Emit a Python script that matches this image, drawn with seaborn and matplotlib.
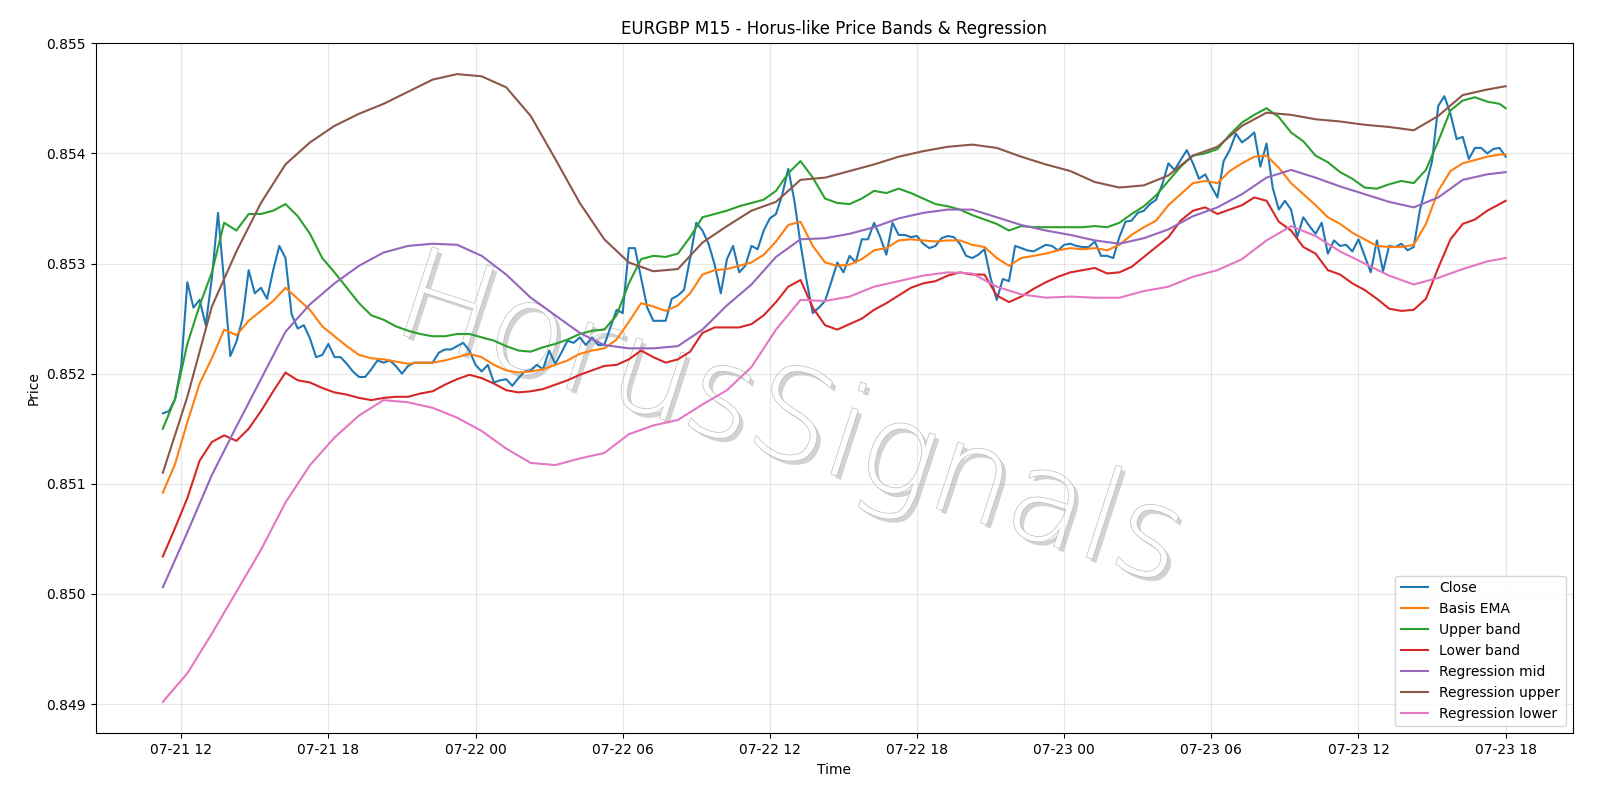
import pandas as pd
import seaborn as sns
import matplotlib.pyplot as plt
import matplotlib.dates as mdates
import matplotlib.patheffects as pe

# 15 minute bars, EURGBP
times = pd.date_range('2025-07-21 11:15', periods=220, freq='15min')
# bands read every 30 min, regression lines every hour (plus the last bar)
half_pos = list(range(0, 219, 2)) + [219]
hourly_pos = list(range(0, 217, 4)) + [219]
half_times = times[half_pos]
hourly_times = times[hourly_pos]

close = [
    0.85164, 0.85166, 0.85177, 0.85207, 0.85283, 0.85260, 0.85267, 0.85244, 0.85287, 0.85346,
    0.85283, 0.85216, 0.85229, 0.85250, 0.85294, 0.85273, 0.85278, 0.85268, 0.85294, 0.85316,
    0.85305, 0.85254, 0.85241, 0.85244, 0.85232, 0.85215, 0.85217, 0.85227, 0.85215, 0.85215,
    0.85209, 0.85202, 0.85197, 0.85197, 0.85204, 0.85212, 0.85210, 0.85212, 0.85207, 0.85200,
    0.85207, 0.85210, 0.85210, 0.85210, 0.85210, 0.85219, 0.85222, 0.85222, 0.85225, 0.85228,
    0.85221, 0.85208, 0.85202, 0.85208, 0.85192, 0.85194, 0.85195, 0.85189, 0.85196, 0.85202,
    0.85203, 0.85208, 0.85204, 0.85221, 0.85209, 0.85219, 0.85230, 0.85228, 0.85233, 0.85226,
    0.85233, 0.85226, 0.85226, 0.85242, 0.85258, 0.85255, 0.85314, 0.85314, 0.85287, 0.85260,
    0.85248, 0.85248, 0.85248, 0.85268, 0.85271, 0.85276, 0.85305, 0.85337, 0.85330, 0.85318,
    0.85299, 0.85273, 0.85304, 0.85316, 0.85292, 0.85298, 0.85316, 0.85313, 0.85330, 0.85341,
    0.85345, 0.85362, 0.85386, 0.85357, 0.85318, 0.85284, 0.85255, 0.85260, 0.85266, 0.85283,
    0.85301, 0.85292, 0.85307, 0.85301, 0.85322, 0.85322, 0.85337, 0.85324, 0.85308, 0.85337,
    0.85326, 0.85326, 0.85324, 0.85325, 0.85318, 0.85314, 0.85316, 0.85323, 0.85325, 0.85324,
    0.85318, 0.85307, 0.85305, 0.85308, 0.85313, 0.85287, 0.85267, 0.85286, 0.85284, 0.85316,
    0.85314, 0.85312, 0.85311, 0.85314, 0.85317, 0.85316, 0.85312, 0.85317, 0.85318, 0.85316,
    0.85315, 0.85315, 0.85320, 0.85307, 0.85307, 0.85305, 0.85324, 0.85338, 0.85339, 0.85346,
    0.85348, 0.85354, 0.85358, 0.85372, 0.85391, 0.85385, 0.85394, 0.85403, 0.85391, 0.85377,
    0.85381, 0.85370, 0.85360, 0.85393, 0.85403, 0.85418, 0.85410, 0.85414, 0.85419, 0.85388,
    0.85409, 0.85369, 0.85349, 0.85357, 0.85349, 0.85324, 0.85342, 0.85334, 0.85327, 0.85337,
    0.85309, 0.85321, 0.85316, 0.85317, 0.85311, 0.85322, 0.85307, 0.85292, 0.85321, 0.85293,
    0.85316, 0.85315, 0.85318, 0.85312, 0.85315, 0.85348, 0.85371, 0.85393, 0.85443, 0.85452,
    0.85436, 0.85413, 0.85415, 0.85395, 0.85405, 0.85405, 0.85400, 0.85404, 0.85405, 0.85397,
]

basis_ema = [
    0.85092, 0.85118, 0.85156, 0.85191, 0.85214, 0.85240, 0.85235, 0.85248, 0.85257, 0.85266,
    0.85278, 0.85268, 0.85258, 0.85243, 0.85234, 0.85225, 0.85217, 0.85214, 0.85213, 0.85211,
    0.85209, 0.85210, 0.85210, 0.85212, 0.85215, 0.85218, 0.85215, 0.85208, 0.85203, 0.85201,
    0.85202, 0.85204, 0.85208, 0.85212, 0.85218, 0.85221, 0.85223, 0.85231, 0.85247, 0.85264,
    0.85261, 0.85257, 0.85262, 0.85273, 0.85290, 0.85294, 0.85295, 0.85298, 0.85301, 0.85308,
    0.85320, 0.85335, 0.85338, 0.85316, 0.85301, 0.85298, 0.85299, 0.85304, 0.85312, 0.85314,
    0.85321, 0.85322, 0.85321, 0.85320, 0.85321, 0.85321, 0.85317, 0.85315, 0.85305, 0.85298,
    0.85305, 0.85307, 0.85309, 0.85312, 0.85314, 0.85313, 0.85314, 0.85312, 0.85317, 0.85326,
    0.85333, 0.85339, 0.85353, 0.85363, 0.85373, 0.85375, 0.85373, 0.85384, 0.85391, 0.85397,
    0.85398, 0.85387, 0.85373, 0.85363, 0.85353, 0.85342, 0.85336, 0.85328, 0.85322, 0.85316,
    0.85315, 0.85315, 0.85317, 0.85336, 0.85366, 0.85384, 0.85391, 0.85394, 0.85397, 0.85399,
    0.85399,
]

upper_band = [
    0.85150, 0.85177, 0.85227, 0.85262, 0.85292, 0.85337, 0.85330, 0.85345, 0.85345, 0.85348,
    0.85354, 0.85343, 0.85327, 0.85305, 0.85292, 0.85278, 0.85264, 0.85253, 0.85249, 0.85243,
    0.85239, 0.85236, 0.85234, 0.85234, 0.85236, 0.85236, 0.85233, 0.85230, 0.85225, 0.85221,
    0.85220, 0.85224, 0.85227, 0.85231, 0.85236, 0.85239, 0.85240, 0.85253, 0.85282, 0.85304,
    0.85307, 0.85306, 0.85309, 0.85324, 0.85342, 0.85345, 0.85348, 0.85352, 0.85355, 0.85358,
    0.85366, 0.85382, 0.85393, 0.85378, 0.85359, 0.85355, 0.85354, 0.85359, 0.85366, 0.85364,
    0.85368, 0.85364, 0.85359, 0.85354, 0.85352, 0.85349, 0.85344, 0.85340, 0.85336, 0.85330,
    0.85334, 0.85333, 0.85333, 0.85333, 0.85333, 0.85333, 0.85334, 0.85333, 0.85337, 0.85345,
    0.85352, 0.85362, 0.85375, 0.85388, 0.85398, 0.85400, 0.85404, 0.85417, 0.85428, 0.85435,
    0.85441, 0.85433, 0.85419, 0.85411, 0.85398, 0.85392, 0.85383, 0.85377, 0.85369, 0.85368,
    0.85372, 0.85375, 0.85373, 0.85385, 0.85411, 0.85439, 0.85448, 0.85451, 0.85447, 0.85445,
    0.85441,
]

lower_band = [
    0.85034, 0.85060, 0.85087, 0.85121, 0.85138, 0.85144, 0.85139, 0.85150, 0.85166, 0.85184,
    0.85201, 0.85194, 0.85192, 0.85187, 0.85183, 0.85181, 0.85178, 0.85176, 0.85178, 0.85179,
    0.85179, 0.85182, 0.85184, 0.85190, 0.85195, 0.85199, 0.85196, 0.85191, 0.85185, 0.85183,
    0.85184, 0.85186, 0.85190, 0.85194, 0.85199, 0.85203, 0.85207, 0.85208, 0.85213, 0.85221,
    0.85215, 0.85210, 0.85213, 0.85220, 0.85237, 0.85242, 0.85242, 0.85242, 0.85245, 0.85253,
    0.85265, 0.85279, 0.85285, 0.85260, 0.85244, 0.85240, 0.85245, 0.85250, 0.85258, 0.85264,
    0.85271, 0.85278, 0.85282, 0.85284, 0.85289, 0.85292, 0.85290, 0.85290, 0.85271, 0.85265,
    0.85270, 0.85277, 0.85283, 0.85288, 0.85292, 0.85294, 0.85296, 0.85291, 0.85292, 0.85297,
    0.85306, 0.85315, 0.85324, 0.85339, 0.85348, 0.85351, 0.85345, 0.85349, 0.85353, 0.85360,
    0.85357, 0.85338, 0.85330, 0.85315, 0.85309, 0.85294, 0.85290, 0.85282, 0.85276, 0.85268,
    0.85259, 0.85257, 0.85258, 0.85268, 0.85296, 0.85322, 0.85336, 0.85340, 0.85348, 0.85354,
    0.85357,
]

reg_mid = [
    0.85006, 0.85056, 0.85108, 0.85152, 0.85195, 0.85238, 0.85263, 0.85282, 0.85298, 0.85310,
    0.85316, 0.85318, 0.85317, 0.85307, 0.85290, 0.85269, 0.85253, 0.85237, 0.85226, 0.85223,
    0.85223, 0.85225, 0.85240, 0.85262, 0.85281, 0.85306, 0.85322, 0.85323, 0.85327, 0.85333,
    0.85341, 0.85346, 0.85349, 0.85349, 0.85342, 0.85335, 0.85330, 0.85326, 0.85321, 0.85318,
    0.85323, 0.85331, 0.85343, 0.85351, 0.85363, 0.85378, 0.85385, 0.85378, 0.85370, 0.85363,
    0.85356, 0.85351, 0.85360, 0.85376, 0.85381, 0.85383,
]

reg_upper = [
    0.85110, 0.85179, 0.85261, 0.85311, 0.85355, 0.85390, 0.85410, 0.85425, 0.85436, 0.85445,
    0.85456, 0.85467, 0.85472, 0.85470, 0.85460, 0.85434, 0.85395, 0.85355, 0.85322, 0.85301,
    0.85293, 0.85295, 0.85319, 0.85334, 0.85348, 0.85356, 0.85376, 0.85378, 0.85384, 0.85390,
    0.85397, 0.85402, 0.85406, 0.85408, 0.85405, 0.85397, 0.85390, 0.85384, 0.85374, 0.85369,
    0.85371, 0.85380, 0.85398, 0.85406, 0.85425, 0.85437, 0.85435, 0.85431, 0.85429, 0.85426,
    0.85424, 0.85421, 0.85434, 0.85453, 0.85458, 0.85461,
]

reg_lower = [
    0.84902, 0.84928, 0.84964, 0.85002, 0.85040, 0.85083, 0.85117, 0.85142, 0.85162, 0.85176,
    0.85174, 0.85169, 0.85160, 0.85148, 0.85132, 0.85119, 0.85117, 0.85123, 0.85128, 0.85145,
    0.85153, 0.85158, 0.85172, 0.85185, 0.85206, 0.85240, 0.85267, 0.85266, 0.85270, 0.85279,
    0.85284, 0.85289, 0.85292, 0.85291, 0.85279, 0.85272, 0.85269, 0.85270, 0.85269, 0.85269,
    0.85275, 0.85279, 0.85288, 0.85294, 0.85304, 0.85321, 0.85334, 0.85325, 0.85311, 0.85300,
    0.85289, 0.85281, 0.85287, 0.85295, 0.85302, 0.85305,
]

colores = sns.color_palette('tab10')

fig, ax = plt.subplots(figsize=(16, 8), dpi=100)

sns.lineplot(x=times, y=close, label='Close', color=colores[0], ax=ax)
sns.lineplot(x=half_times, y=basis_ema, label='Basis EMA', color=colores[1], ax=ax)
sns.lineplot(x=half_times, y=upper_band, label='Upper band', color=colores[2], ax=ax)
sns.lineplot(x=half_times, y=lower_band, label='Lower band', color=colores[3], ax=ax)
sns.lineplot(x=hourly_times, y=reg_mid, label='Regression mid', color=colores[4], ax=ax)
sns.lineplot(x=hourly_times, y=reg_upper, label='Regression upper', color=colores[5], ax=ax)
sns.lineplot(x=hourly_times, y=reg_lower, label='Regression lower', color=colores[6], ax=ax)

# marca de agua
ax.text(0.47, 0.448, 'HorusSignals', transform=ax.transAxes, fontsize=91, rotation=-18,
        fontweight='light', ha='center', va='center', color='white', zorder=0,
        path_effects=[pe.SimplePatchShadow(offset=(3, -3), shadow_rgbFace='#d2d2d2', alpha=1.0),
                      pe.Stroke(linewidth=1.0, foreground='#bdbdbd'), pe.Normal()])

ax.xaxis.set_major_locator(mdates.HourLocator(byhour=[0, 6, 12, 18]))
ax.xaxis.set_major_formatter(mdates.DateFormatter('%m-%d %H'))
ax.ticklabel_format(axis='y', useOffset=False)
ax.grid(True, alpha=0.3)
ax.set_title('EURGBP M15 - Horus-like Price Bands & Regression')
ax.set_xlabel('Time')
ax.set_ylabel('Price')
ax.legend(loc='lower right')

plt.subplots_adjust(left=0.0598, right=0.983, top=0.9466, bottom=0.0834)
plt.savefig('out.png', dpi=100)
